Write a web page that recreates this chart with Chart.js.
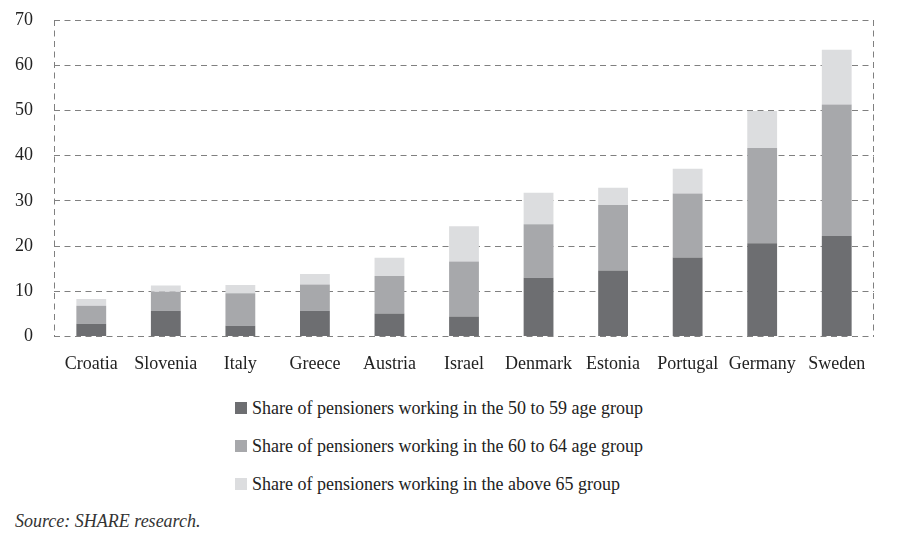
<!DOCTYPE html>
<html>
<head>
<meta charset="utf-8">
<script src="https://cdn.jsdelivr.net/npm/chart.js@4.4.1/dist/chart.umd.min.js"></script>
<style>
  html, body { margin: 0; padding: 0; background: #fff; }
  body { width: 900px; height: 539px; position: relative; overflow: hidden; font-family: "Liberation Serif", "Times New Roman", serif; color: #222; }
  #wrap { position: absolute; left: 0; top: 0; width: 900px; height: 390px; }
  #legend { position: absolute; left: 235px; top: 397px; font-size: 18px; }
  .item { height: 38px; line-height: 22px; white-space: nowrap; }
  .box { display: inline-block; width: 12px; height: 12px; margin-right: 5px; vertical-align: 0px; }
  #source { position: absolute; left: 15px; top: 511px; font-size: 18px; font-style: italic; color: #333; }
</style>
</head>
<body>
<div id="wrap"><canvas id="c"></canvas></div>
<div id="legend"></div>
<div id="source">Source: SHARE research.</div>
<script>
const categories = ["Croatia","Slovenia","Italy","Greece","Austria","Israel","Denmark","Estonia","Portugal","Germany","Sweden"];
const age50to59 = [2.8, 5.7, 2.4, 5.7, 5.1, 4.4, 13.0, 14.6, 17.5, 20.6, 22.2];
const age60to64 = [4.0, 4.2, 7.15, 5.8, 8.3, 12.2, 11.8, 14.5, 14.1, 21.1, 29.1];
const ageAbove65 = [1.5, 1.4, 1.85, 2.3, 4.0, 7.8, 7.0, 3.8, 5.5, 8.2, 12.1];
const seriesLabels = [
  "Share of pensioners working in the 50 to 59 age group",
  "Share of pensioners working in the 60 to 64 age group",
  "Share of pensioners working in the above 65 group"
];
const colors = ["#6d6e71", "#a7a8ab", "#dcdddf"];
const yTicks = [0, 10, 20, 30, 40, 50, 60, 70];

const seriesData = [age50to59, age60to64, ageAbove65];
const datasets = seriesData.map((d, i) => ({
  label: seriesLabels[i],
  data: d,
  backgroundColor: colors[i],
  borderWidth: 0,
  barPercentage: 0.8,
  categoryPercentage: 0.5
}));

const dash = [6, 4.5];
const gridColor = "#808080";

const frameSides = {
  id: "frameSides",
  afterDraw(chart) {
    const { ctx, chartArea: a } = chart;
    ctx.save();
    ctx.strokeStyle = gridColor;
    ctx.lineWidth = 1;
    ctx.setLineDash(dash);
    ctx.beginPath();
    ctx.moveTo(Math.round(a.left) + 0.5, a.top);
    ctx.lineTo(Math.round(a.left) + 0.5, a.bottom);
    ctx.moveTo(Math.round(a.right) - 0.5, a.top);
    ctx.lineTo(Math.round(a.right) - 0.5, a.bottom);
    ctx.stroke();
    ctx.restore();
  }
};

new Chart(document.getElementById("c"), {
  type: "bar",
  data: { labels: categories, datasets },
  options: {
    responsive: true,
    maintainAspectRatio: false,
    animation: false,
    layout: { padding: { left: 0, right: 26, top: 20, bottom: 0 } },
    plugins: { legend: { display: false }, tooltip: { enabled: false } },
    scales: {
      x: {
        stacked: true,
        grid: { display: false },
        border: { display: false },
        ticks: { color: "#222", font: { family: "Liberation Serif", size: 18 }, padding: 9, maxRotation: 0, autoSkip: false },
        afterFit: s => { s.height = 53.5; }
      },
      y: {
        stacked: true,
        min: 0, max: 70,
        afterBuildTicks: s => { s.ticks = yTicks.map(v => ({ value: v })); },
        grid: { color: gridColor, lineWidth: 1, drawTicks: true, tickLength: 21, tickColor: "rgba(0,0,0,0)" },
        border: { display: false, dash: dash },
        ticks: { color: "#222", font: { family: "Liberation Serif", size: 18 }, padding: 0 },
        afterFit: s => { s.width = 54; }
      }
    }
  },
  plugins: [frameSides]
});
</script>
<script>
const lg = document.getElementById("legend");
seriesLabels.forEach((t, i) => {
  const d = document.createElement("div");
  d.className = "item";
  d.innerHTML = '<span class="box" style="background:' + colors[i] + '"></span>' + t;
  lg.appendChild(d);
});
</script>
</body>
</html>
